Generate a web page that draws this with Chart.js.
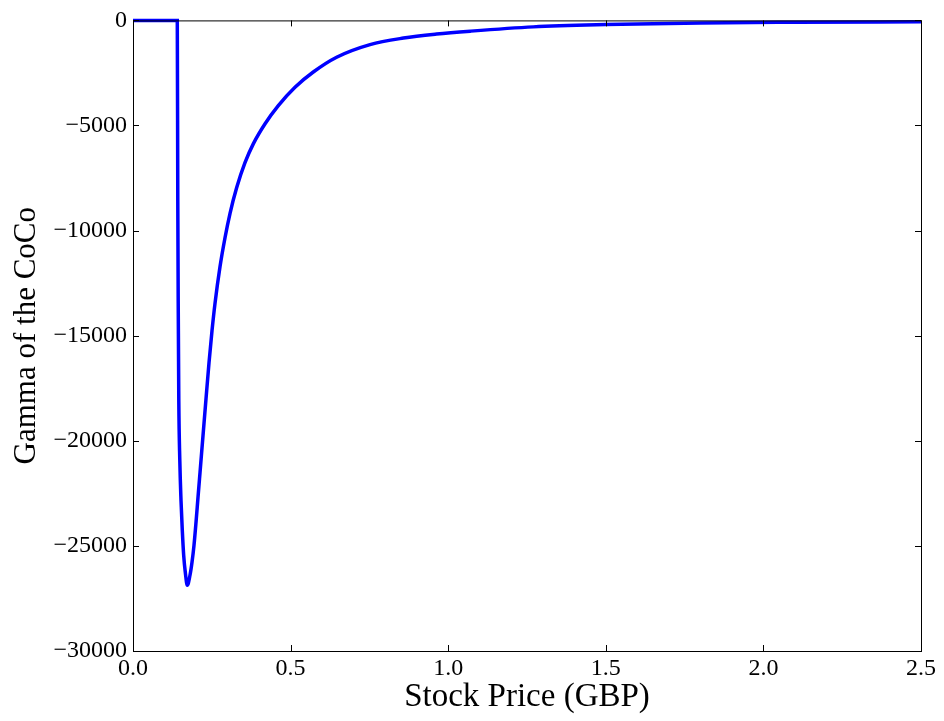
<!DOCTYPE html>
<html>
<head>
<meta charset="utf-8">
<script src="https://cdn.jsdelivr.net/npm/chart.js@4/dist/chart.umd.min.js"></script>
<style>
  html, body { margin: 0; padding: 0; background: #fff; }
  #wrap { width: 944px; height: 721px; }
</style>
</head>
<body>
<div id="wrap"><canvas id="gammaChart" width="944" height="721"></canvas></div>
<script>
// stock price (GBP)
const stockPrice = [
  0, 0.1405, 0.1421, 0.1434, 0.1453, 0.1485, 0.1523, 0.1564, 0.1608, 0.1659,
  0.1723, 0.1808, 0.1872, 0.1935, 0.1999, 0.2062, 0.2126, 0.2221, 0.2316,
  0.2411, 0.2506, 0.2601, 0.2760, 0.2919, 0.3077, 0.3290, 0.3553, 0.382,
  0.419, 0.461, 0.514, 0.572, 0.646, 0.752, 0.858, 0.963, 1.07, 1.27, 1.50,
  1.80, 2.10, 2.50
];
// gamma of the CoCo
const gamma = [
  0, 0, -8609, -13352, -18095, -20941, -22838, -24261, -25447, -26253,
  -26870, -26396, -25780, -24974, -23883, -22697, -21511, -19756, -18001,
  -16294, -14774, -13473, -11724, -10341, -9188, -7953, -6770, -5862,
  -4915, -4054, -3179, -2454, -1751, -1150, -840, -650, -512, -308, -199,
  -119, -90, -70
];
const xTicks = [0, 0.5, 1.0, 1.5, 2.0, 2.5];
const yTicks = [0, -5000, -10000, -15000, -20000, -25000, -30000];

const FONT = "'Liberation Serif', 'DejaVu Serif', serif";

// matplotlib-style frame with ticks pointing inward on all four sides
const frame = {
  id: "frame",
  afterDatasetsDraw(chart) {
    const { ctx, chartArea: a, scales } = chart;
    const len = 6;
    ctx.save();
    ctx.strokeStyle = "#000";
    ctx.lineWidth = 1;
    ctx.beginPath();
    xTicks.forEach((v) => {
      const px = Math.round(scales.x.getPixelForValue(v)) + 0.5;
      ctx.moveTo(px, a.bottom); ctx.lineTo(px, a.bottom - len);
      ctx.moveTo(px, a.top); ctx.lineTo(px, a.top + len);
    });
    yTicks.forEach((v) => {
      const py = Math.round(scales.y.getPixelForValue(v)) + 0.5;
      ctx.moveTo(a.left, py); ctx.lineTo(a.left + len, py);
      ctx.moveTo(a.right, py); ctx.lineTo(a.right - len, py);
    });
    ctx.stroke();
    ctx.strokeRect(a.left + 0.5, a.top + 0.5, a.right - a.left, a.bottom - a.top);
    ctx.restore();
  }
};

new Chart(document.getElementById("gammaChart"), {
  type: "scatter",
  data: {
    datasets: [{
      data: stockPrice.map((x, i) => ({ x, y: gamma[i] })),
      showLine: true,
      borderColor: "#0000ff",
      borderWidth: 3.5,
      pointRadius: 0,
      cubicInterpolationMode: "monotone",
      clip: false
    }]
  },
  options: {
    responsive: false,
    animation: false,
    layout: { padding: { left: 0, right: 23, top: 18, bottom: 0 } },
    plugins: { legend: { display: false }, tooltip: { enabled: false } },
    scales: {
      x: {
        type: "linear",
        min: 0, max: 2.5,
        afterBuildTicks: (s) => { s.ticks = xTicks.map((v) => ({ value: v })); },
        afterFit: (s) => { s.height = 70; },
        grid: { display: false, drawTicks: false },
        border: { display: false },
        ticks: {
          padding: 3,
          color: "#000",
          font: { family: FONT, size: 24 },
          callback: (v) => v.toFixed(1)
        },
        title: {
          display: true,
          text: "Stock Price (GBP)",
          color: "#000",
          font: { family: FONT, size: 33 },
          padding: { top: -4 }
        }
      },
      y: {
        type: "linear",
        min: -30000, max: 0,
        afterBuildTicks: (s) => { s.ticks = yTicks.map((v) => ({ value: v })); },
        afterFit: (s) => { s.width = 133; },
        grid: { display: false, drawTicks: false },
        border: { display: false },
        ticks: {
          padding: 6,
          color: "#000",
          font: { family: FONT, size: 24 },
          callback: (v) => (v < 0 ? "\u2212" + Math.abs(v) : String(v))
        },
        title: {
          display: true,
          text: "Gamma of the CoCo",
          color: "#000",
          font: { family: FONT, size: 31 },
          padding: { top: 8, bottom: 0 }
        }
      }
    }
  },
  plugins: [frame]
});
</script>
</body>
</html>
